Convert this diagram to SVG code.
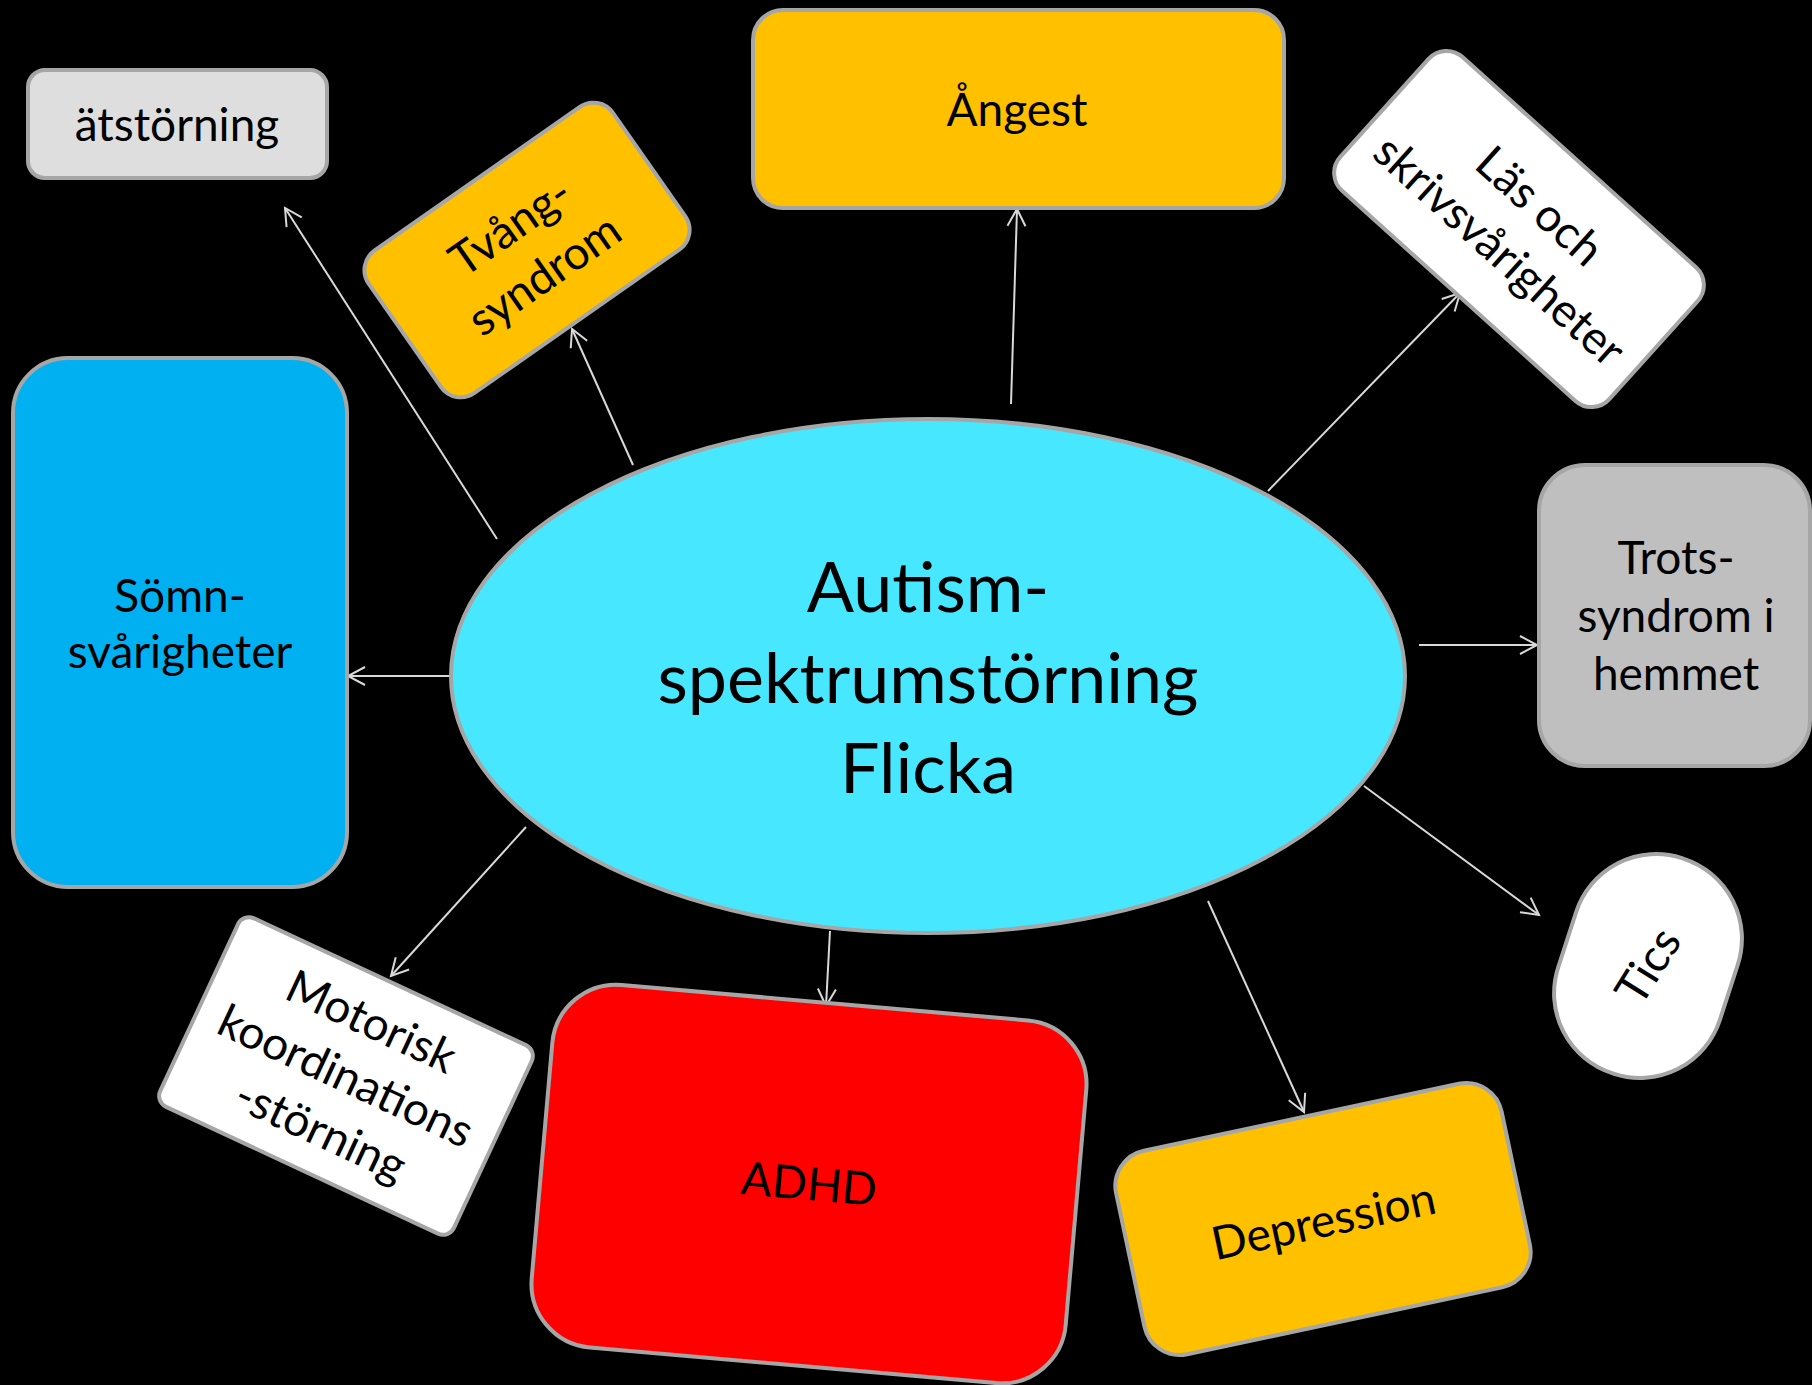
<svg xmlns="http://www.w3.org/2000/svg" width="1812" height="1385" viewBox="0 0 1812 1385">
<defs>
<style>
.box{stroke:#A6A6A6;stroke-width:4}
.t{font-family:Lato,"Open Sans","Noto Sans",sans-serif;font-size:46px;fill:#000;text-anchor:middle}
.big{font-size:70px}
.conn line{stroke:#D9D9D9;stroke-width:2;fill:none;marker-end:url(#arr)}
</style>
<marker id="arr" viewBox="-20 -12 24 24" refX="0" refY="0" markerWidth="24" markerHeight="24" markerUnits="userSpaceOnUse" orient="auto">
<path d="M-17,-9 L0,0 L-17,9" fill="none" stroke="#D9D9D9" stroke-width="2"/>
</marker>
</defs>
<rect width="1812" height="1385" fill="#000"/>

<g class="conn" id="connectors">
<line x1="497" y1="539" x2="285" y2="208"/>
<line x1="633" y1="465" x2="572" y2="329"/>
<line x1="1011" y1="404" x2="1017" y2="209"/>
<line x1="1268" y1="491" x2="1460" y2="293"/>
<line x1="1419" y1="645" x2="1537" y2="645"/>
<line x1="1364" y1="786" x2="1539" y2="915"/>
<line x1="1208" y1="901" x2="1304" y2="1112"/>
<line x1="830" y1="931" x2="826" y2="1006"/>
<line x1="526" y1="827" x2="391" y2="976"/>
<line x1="451" y1="676" x2="348" y2="676"/>
</g>

<g id="center">
<ellipse cx="928" cy="676" rx="477" ry="257" fill="#47E7FF" class="box"/>
<text class="t big" x="928" y="612">Autism-</text>
<text class="t big" x="928" y="703">spektrumstörning</text>
<text class="t big" x="928" y="793">Flicka</text>
</g>

<g id="atstorning">
<rect x="28" y="70" width="299" height="108" rx="17" fill="#DEDEDE" class="box"/>
<text class="t" x="177" y="141">ätstörning</text>
</g>

<g id="tvang" transform="translate(527,250) rotate(-35)">
<rect x="-149" y="-87" width="298" height="174" rx="24" fill="#FFC000" class="box"/>
<text class="t" x="0" y="-13">Tvång-</text>
<text class="t" x="0" y="46">syndrom</text>
</g>

<g id="angest">
<rect x="753" y="10" width="531" height="198" rx="30" fill="#FFC000" class="box"/>
<text class="t" x="1017" y="126">Ångest</text>
</g>

<g id="las" transform="translate(1519,229) rotate(42)">
<rect x="-181" y="-90" width="362" height="180" rx="24" fill="#FFFFFF" class="box"/>
<text class="t" x="0" y="-15">Läs och</text>
<text class="t" x="0" y="45">skrivsvårigheter</text>
</g>

<g id="somn">
<rect x="13" y="358" width="334" height="529" rx="55" fill="#00B0F0" class="box"/>
<text class="t" x="180" y="612">Sömn-</text>
<text class="t" x="180" y="668">svårigheter</text>
</g>

<g id="trots">
<rect x="1539" y="465" width="271" height="301" rx="46" fill="#BFBFBF" class="box"/>
<text class="t" x="1676" y="574">Trots-</text>
<text class="t" x="1676" y="632">syndrom i</text>
<text class="t" x="1676" y="690">hemmet</text>
</g>

<g id="tics" transform="translate(1648,966)">
<rect x="-113" y="-85" width="226" height="170" rx="84" fill="#FFFFFF" class="box" transform="rotate(-72)"/>
<text class="t" x="0" y="16" transform="rotate(-58)">Tics</text>
</g>

<g id="depression" transform="translate(1323,1219) rotate(-12)">
<rect x="-197" y="-104" width="394" height="208" rx="36" fill="#FFC000" class="box"/>
<text class="t" x="0" y="18">Depression</text>
</g>

<g id="adhd" transform="translate(809,1184) rotate(5)">
<rect x="-268" y="-182" width="536" height="364" rx="64" fill="#FF0000" class="box"/>
<text class="t" x="0" y="16">ADHD</text>
</g>

<g id="motorisk" transform="translate(346,1076) rotate(25)">
<rect x="-162" y="-104" width="324" height="208" rx="12" fill="#FFFFFF" class="box"/>
<text class="t" x="0" y="-44">Motorisk</text>
<text class="t" x="0" y="16">koordinations</text>
<text class="t" x="0" y="76">-störning</text>
</g>
</svg>
